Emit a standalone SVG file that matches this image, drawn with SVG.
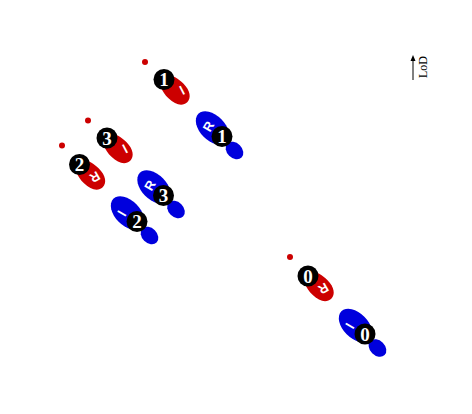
<svg xmlns="http://www.w3.org/2000/svg" width="472" height="414" viewBox="0 0 472 414">
<style>
.red{fill:#cc0000}
.blue{fill:#0000dd}
.badge{fill:#000}
.num{fill:#fff;font-family:"Liberation Serif",serif;font-weight:bold;font-size:19px;text-anchor:middle}
.let{fill:#fff;font-family:"Liberation Sans",sans-serif;font-weight:bold;font-size:13px;text-anchor:middle}
.lod{fill:#000;font-family:"Liberation Serif",serif;font-size:12px;text-anchor:middle}
</style>
<defs>
<marker id="ah" markerWidth="6" markerHeight="6" refX="3" refY="3" orient="auto" markerUnits="userSpaceOnUse">
<path d="M0,0.5 L6,3 L0,5.5 z" fill="#000"/>
</marker>
<path id="redshoe" d="M-17,0 C-17,-7 -8,-10.5 2,-10.5 C12,-10.5 18,-6 18,0 C18,6 12,10.5 2,10.5 C-8,10.5 -17,7 -17,0 Z"/>
</defs>
<rect width="472" height="414" fill="#fff"/>
<g id="lady1" transform="translate(164,79.5)">
<circle class="red" cx="-19" cy="-17.5" r="3"/>
<use href="#redshoe" class="red" transform="translate(10.5,10) rotate(45)"/>
<text class="let" x="0" y="0" transform="translate(18,10.5) rotate(153)" dy="4.5">l</text>
<circle class="badge" r="10.5"/>
<text class="num" y="6.5">1</text>
</g>
<g id="lady3" transform="translate(107,138)">
<circle class="red" cx="-19" cy="-17.5" r="3"/>
<use href="#redshoe" class="red" transform="translate(10.5,10) rotate(45)"/>
<text class="let" x="0" y="0" transform="translate(18,10.5) rotate(153)" dy="4.5">l</text>
<circle class="badge" r="10.5"/>
<text class="num" y="6.5">3</text>
</g>
<g id="lady2" transform="translate(79.5,164.5)">
<circle class="red" cx="-17.5" cy="-19" r="3"/>
<use href="#redshoe" class="red" transform="translate(10.5,10) rotate(45)"/>
<text class="let" x="0" y="0" transform="translate(15.5,12.5) rotate(150)" dy="4.5">R</text>
<circle class="badge" r="10.5"/>
<text class="num" y="6.5">2</text>
</g>
<g id="lady0" transform="translate(308,276)">
<circle class="red" cx="-18" cy="-19" r="3"/>
<use href="#redshoe" class="red" transform="translate(10.5,10) rotate(45)"/>
<text class="let" x="0" y="0" transform="translate(15.5,12.5) rotate(150)" dy="4.5">R</text>
<circle class="badge" r="10.5"/>
<text class="num" y="6.5">0</text>
</g>
<g id="man1" transform="translate(222,136.5)">
<ellipse class="blue" cx="-9.5" cy="-8.5" rx="20" ry="12.5" transform="rotate(45 -9.5 -8.5)"/>
<ellipse class="blue" cx="12.5" cy="14" rx="10" ry="7.5" transform="rotate(45 12.5 14)"/>
<text class="let" x="0" y="0" transform="translate(-13.5,-10) rotate(-60)" dy="4.5">R</text>
<circle class="badge" r="10.5"/>
<text class="num" y="6.5">1</text>
</g>
<g id="man3" transform="translate(163.5,195.5)">
<ellipse class="blue" cx="-9.5" cy="-8.5" rx="20" ry="12.5" transform="rotate(45 -9.5 -8.5)"/>
<ellipse class="blue" cx="12.5" cy="14" rx="10" ry="7.5" transform="rotate(45 12.5 14)"/>
<text class="let" x="0" y="0" transform="translate(-13.5,-10) rotate(-60)" dy="4.5">R</text>
<circle class="badge" r="10.5"/>
<text class="num" y="6.5">3</text>
</g>
<g id="man2" transform="translate(137,221.5)">
<ellipse class="blue" cx="-9.5" cy="-8.5" rx="20" ry="12.5" transform="rotate(45 -9.5 -8.5)"/>
<ellipse class="blue" cx="12.5" cy="14" rx="10" ry="7.5" transform="rotate(45 12.5 14)"/>
<text class="let" x="0" y="0" transform="translate(-15,-8) rotate(-60)" dy="4.5">l</text>
<circle class="badge" r="10.5"/>
<text class="num" y="6.5">2</text>
</g>
<g id="man0" transform="translate(365,334)">
<ellipse class="blue" cx="-9.5" cy="-8.5" rx="20" ry="12.5" transform="rotate(45 -9.5 -8.5)"/>
<ellipse class="blue" cx="12.5" cy="14" rx="10" ry="7.5" transform="rotate(45 12.5 14)"/>
<text class="let" x="0" y="0" transform="translate(-15,-8) rotate(-60)" dy="4.5">l</text>
<circle class="badge" r="10.5"/>
<text class="num" y="6.5">0</text>
</g>
<g id="connectors">
<line x1="413" y1="80" x2="413" y2="58" stroke="#000" stroke-width="1" marker-end="url(#ah)"/>
</g>
<g id="lod">
<text class="lod" transform="translate(427,67) rotate(-90)">LoD</text>
</g>
</svg>
